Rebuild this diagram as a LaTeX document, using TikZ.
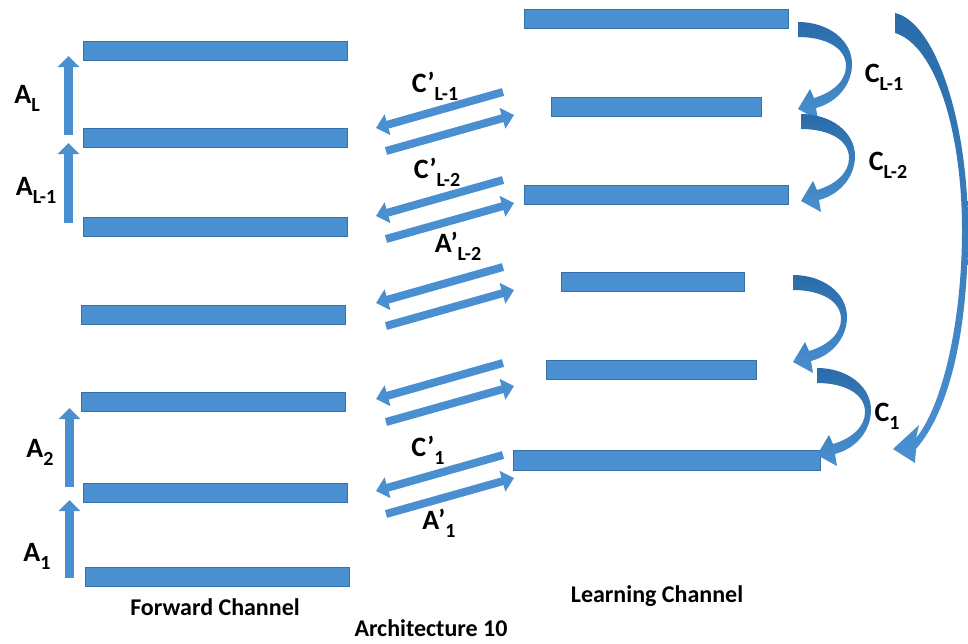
\documentclass[tikz,border=0pt]{standalone}
\usepackage{fontspec}
\setmainfont{Carlito}
\usetikzlibrary{arrows.meta}
\definecolor{barblue}{RGB}{74,144,208}
\definecolor{barline}{RGB}{56,112,170}
\definecolor{curldark}{RGB}{42,108,170}

\newcommand{\sym}[2]{#1\raisebox{-4pt}{\fontsize{10}{10}\selectfont #2}}
\newcommand{\curlarrow}[2]{%
  \path[curlshade, shift={(#1,#2)}] (0,0) .. controls (30,0) and (54,18) .. (54,42)
    .. controls (54,62) and (40,80) .. (18,86) -- (20,98) -- (0,87) -- (12,67) -- (16,76)
    .. controls (36,70) and (48,58) .. (48,44) .. controls (48,26) and (28,15) .. (0,15) -- cycle;}

\tikzset{
  barbox/.style={rectangle, fill=barblue, draw=barline, line width=0.4pt,
    minimum height=9.5pt, inner sep=0pt},
  uparrow/.style={draw=barblue, line width=4.5pt, -{Triangle[width=10.5pt,length=5.5pt]}},
  linkarrow/.style={draw=barblue, line width=4pt, -{Triangle[width=10.5pt,length=6pt]}},
  curlshade/.style={top color=curldark, bottom color=barblue},
  lbl/.style={font=\fontsize{14}{16}\bfseries, inner sep=0pt},
  caption/.style={font=\fontsize{12}{14}\bfseries, inner sep=0pt}
}

\begin{document}
\begin{tikzpicture}[x=0.5pt, y=-0.5pt]
    \useasboundingbox (0,0) rectangle (968,643);

    % Forward channel
    \node[barbox, minimum width=132pt] (f1) at (215,50.5) {};
    \node[barbox, minimum width=132pt] (f2) at (215,138) {};
    \node[barbox, minimum width=132pt] (f3) at (215,226.5) {};
    \node[barbox, minimum width=132pt] (f4) at (213.5,314.5) {};
    \node[barbox, minimum width=132pt] (f5) at (213.5,401.5) {};
    \node[barbox, minimum width=132pt] (f6) at (215,492.5) {};
    \node[barbox, minimum width=132pt] (f7) at (217,576.5) {};

    % Learning channel
    \node[barbox, minimum width=132pt] (l1) at (656,18.5) {};
    \node[barbox, minimum width=105pt] (l2) at (656,106.5) {};
    \node[barbox, minimum width=132pt] (l3) at (656,194.5) {};
    \node[barbox, minimum width=91.5pt] (l4) at (652.5,281.5) {};
    \node[barbox, minimum width=105pt] (l5) at (651,369.5) {};
    \node[barbox, minimum width=153.5pt, minimum height=10pt] (l6) at (666.5,460) {};

    % Forward arrows
    \coordinate (ax) at (68.5,0);
    \coordinate (bx) at (69.5,0);
    \draw[uparrow] ([yshift=1.5pt]ax |- f2.west) -- ([yshift=-2.75pt]ax |- f1.west);
    \draw[uparrow] ([yshift=1.75pt]ax |- f3.west) -- ([yshift=-2.5pt]ax |- f2.west);
    \draw[uparrow] ([yshift=2.75pt]bx |- f6.west) -- ([yshift=-3.25pt]bx |- f5.west);
    \draw[uparrow] ([yshift=-0.75pt]bx |- f7.west) -- ([yshift=-3.75pt]bx |- f6.west);

    \node[lbl] (aL) at (27,98) {\sym{A}{L}};
    \node[lbl] (aL1) at (36,190) {\sym{A}{L-1}};
    \node[lbl] (a2) at (40,452) {\sym{A}{2}};
    \node[lbl] (a1) at (37,556) {\sym{A}{1}};

    % Links between the channels
    \foreach \k/\yy in {1/92, 2/180, 3/267, 4/363, 5/455} {
        \coordinate (cu\k) at (503,\yy);
        \coordinate (cv\k) at (376,\yy+36);
        \coordinate (du\k) at (386,\yy+59);
        \coordinate (dv\k) at (514,\yy+23);
        \draw[linkarrow] (cu\k) -- (cv\k);
        \draw[linkarrow] (du\k) -- (dv\k);
    }
    \node[lbl] (cpL1) at (435,86) {\sym{C’}{L-1}};
    \node[lbl] (cpL2) at (437,172) {\sym{C’}{L-2}};
    \node[lbl] (apL2) at (458,246) {\sym{A’}{L-2}};
    \node[lbl] (cp1) at (428,450) {\sym{C’}{1}};
    \node[lbl] (ap1) at (439,523) {\sym{A’}{1}};

    % Learning arrows
    \curlarrow{798}{22}
    \curlarrow{801}{114}
    \curlarrow{793}{275}
    \curlarrow{817}{368}
    \path[curlshade] (895,13) .. controls (935,22) and (968,120) .. (968,230)
        .. controls (968,330) and (950,410) .. (916,449) -- (915,463) -- (893,449) -- (919,425) -- (916,438)
        .. controls (943,405) and (962,320) .. (962,230) .. controls (962,130) and (935,45) .. (895,33) -- cycle;

    \node[lbl] (cL1) at (884,77) {\sym{C}{L-1}};
    \node[lbl] (cL2) at (888,165) {\sym{C}{L-2}};
    \node[lbl] (c1) at (887,416) {\sym{C}{1}};

    \node[caption] (fwd) at (215,607) {Forward Channel};
    \node[caption] (lrn) at (657,596) {Learning Channel};
    \node[caption] (arch) at (431,628) {Architecture 10};
\end{tikzpicture}
\end{document}
